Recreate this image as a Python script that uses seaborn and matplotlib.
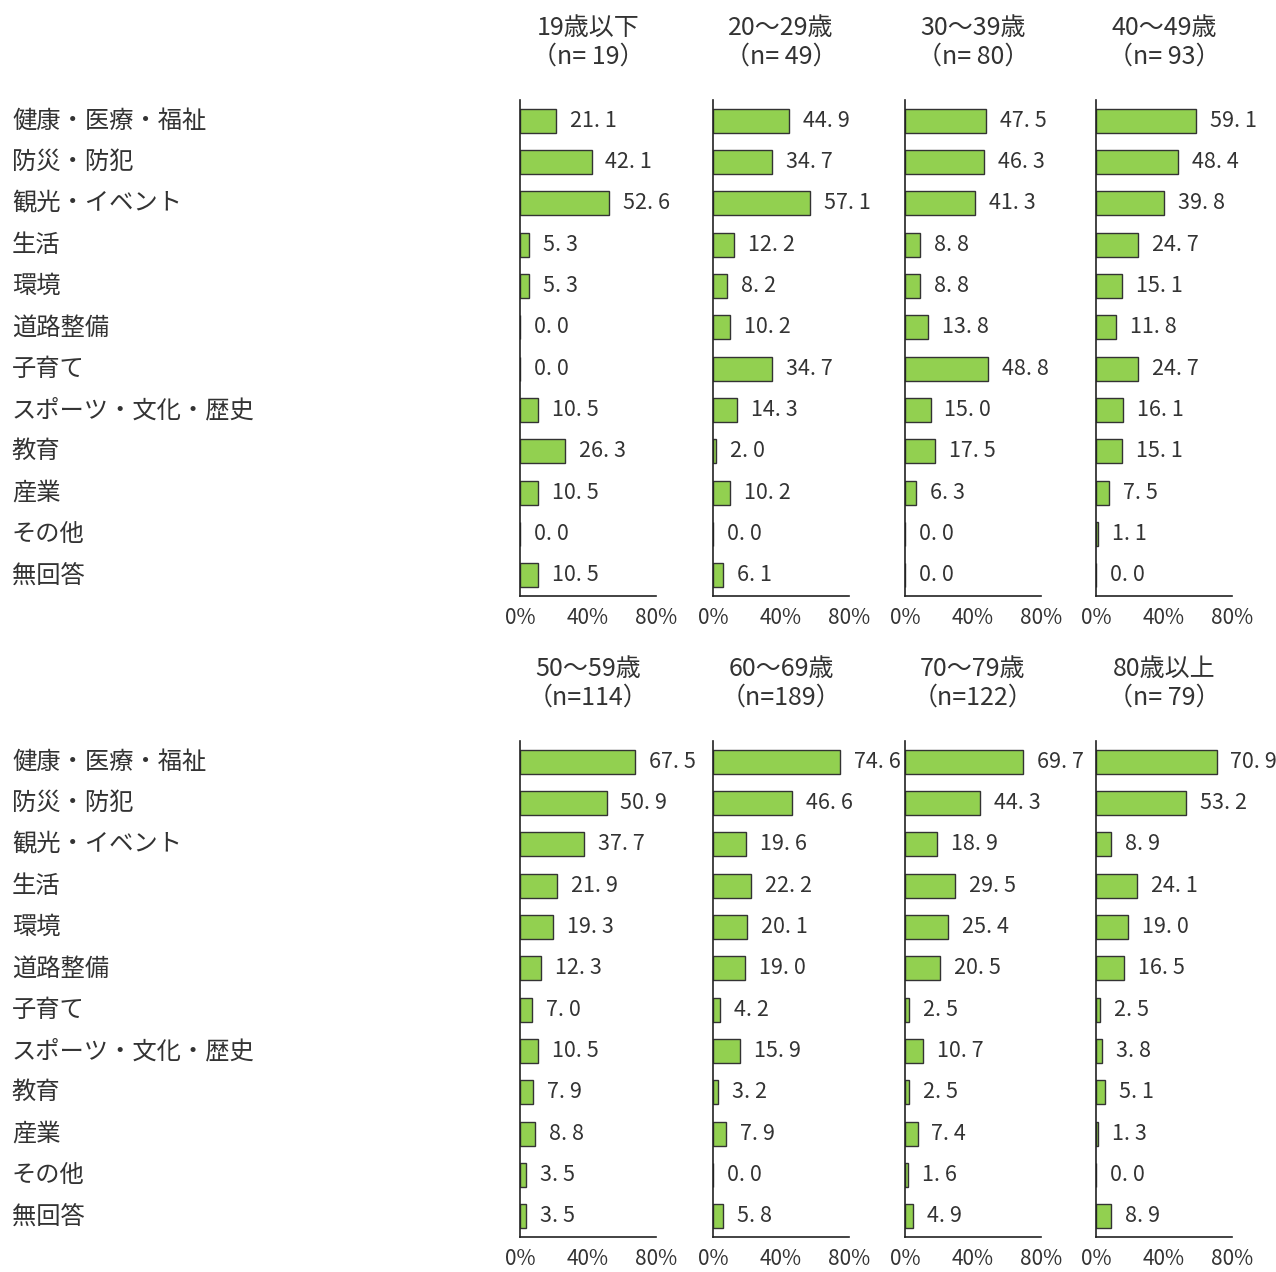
import numpy as np
import pandas as pd
import matplotlib
matplotlib.use('Agg')
import matplotlib.pyplot as plt
import matplotlib.transforms as mtransforms
import seaborn as sns

categories = ['健康・医療・福祉', '防災・防犯', '観光・イベント', '生活', '環境', '道路整備',
              '子育て', 'スポーツ・文化・歴史', '教育', '産業', 'その他', '無回答']
groups = ['19歳以下', '20～29歳', '30～39歳', '40～49歳',
          '50～59歳', '60～69歳', '70～79歳', '80歳以上']
n_counts = [19, 49, 80, 93, 114, 189, 122, 79]

v_under19 = [21.1, 42.1, 52.6, 5.3, 5.3, 0.0, 0.0, 10.5, 26.3, 10.5, 0.0, 10.5]
v_20s = [44.9, 34.7, 57.1, 12.2, 8.2, 10.2, 34.7, 14.3, 2.0, 10.2, 0.0, 6.1]
v_30s = [47.5, 46.3, 41.3, 8.8, 8.8, 13.8, 48.8, 15.0, 17.5, 6.3, 0.0, 0.0]
v_40s = [59.1, 48.4, 39.8, 24.7, 15.1, 11.8, 24.7, 16.1, 15.1, 7.5, 1.1, 0.0]
v_50s = [67.5, 50.9, 37.7, 21.9, 19.3, 12.3, 7.0, 10.5, 7.9, 8.8, 3.5, 3.5]
v_60s = [74.6, 46.6, 19.6, 22.2, 20.1, 19.0, 4.2, 15.9, 3.2, 7.9, 0.0, 5.8]
v_70s = [69.7, 44.3, 18.9, 29.5, 25.4, 20.5, 2.5, 10.7, 2.5, 7.4, 1.6, 4.9]
v_80plus = [70.9, 53.2, 8.9, 24.1, 19.0, 16.5, 2.5, 3.8, 5.1, 1.3, 0.0, 8.9]
values = [v_under19, v_20s, v_30s, v_40s, v_50s, v_60s, v_70s, v_80plus]

sns.set_style('white')
plt.rcParams['font.family'] = ['Noto Sans CJK JP', 'DejaVu Sans']

W, H = 1276, 1272
fig = plt.figure(figsize=(W / 100, H / 100), dpi=100)

col_left = [520, 713, 905, 1096]
row_top = [100, 741]
ax_w, ax_h = 136, 496
green = '#92D050'
txt_col = '#333333'

for i, (grp, n, vals) in enumerate(zip(groups, n_counts, values)):
    r, c = divmod(i, 4)
    ax = fig.add_axes([col_left[c] / W, 1 - (row_top[r] + ax_h) / H, ax_w / W, ax_h / H])
    ax.patch.set_alpha(0)
    df = pd.DataFrame({'cat': categories, 'val': vals})
    sns.barplot(data=df, y='cat', x='val', orient='h', color=green, ax=ax,
                width=0.58, edgecolor='#333333', linewidth=1.0, saturation=1)
    ax.set_xlim(0, 80)
    ax.set_ylim(len(categories) - 0.5, -0.5)
    ax.set_xlabel('')
    ax.set_ylabel('')
    for s in ['top', 'right']:
        ax.spines[s].set_visible(False)
    for s in ['left', 'bottom']:
        ax.spines[s].set_color('#222222')
        ax.spines[s].set_linewidth(1.2)
    ax.set_xticks([0, 40, 80])
    ax.set_xticklabels(['0%', '40%', '80%'], fontsize=15, color=txt_col)
    ax.tick_params(axis='x', direction='in', length=6, width=1.2, pad=8, color='#222222')
    ax.set_yticks([])
    ax.set_yticks(np.arange(len(categories) + 1) - 0.5, minor=True)
    ax.tick_params(axis='y', which='minor', direction='in', length=6, width=1.2, color='#222222')
    ax.tick_params(axis='y', which='major', length=0)
    ax.set_yticklabels([])
    for j, v in enumerate(vals):
        txt = f'{v:.1f}'.replace('.', '. ')
        ax.annotate(txt, xy=(v, j), xytext=(10, 0), textcoords='offset points',
                    ha='left', va='center', fontsize=15.5, color=txt_col)
    cx = (col_left[c] + ax_w / 2) / W
    ty = 1 - (row_top[r] - 58) / H
    fig.text(cx, ty, f'{grp}\n（n={n:>3}）', ha='center', va='center',
             fontsize=18, color=txt_col, linespacing=1.12)
    if c == 0:
        trans = mtransforms.blended_transform_factory(fig.transFigure, ax.transData)
        for j, cat in enumerate(categories):
            fig.text(12 / W, j, cat, transform=trans, ha='left', va='center',
                     fontsize=17.5, color=txt_col)

fig.savefig('out.png', dpi=100)
